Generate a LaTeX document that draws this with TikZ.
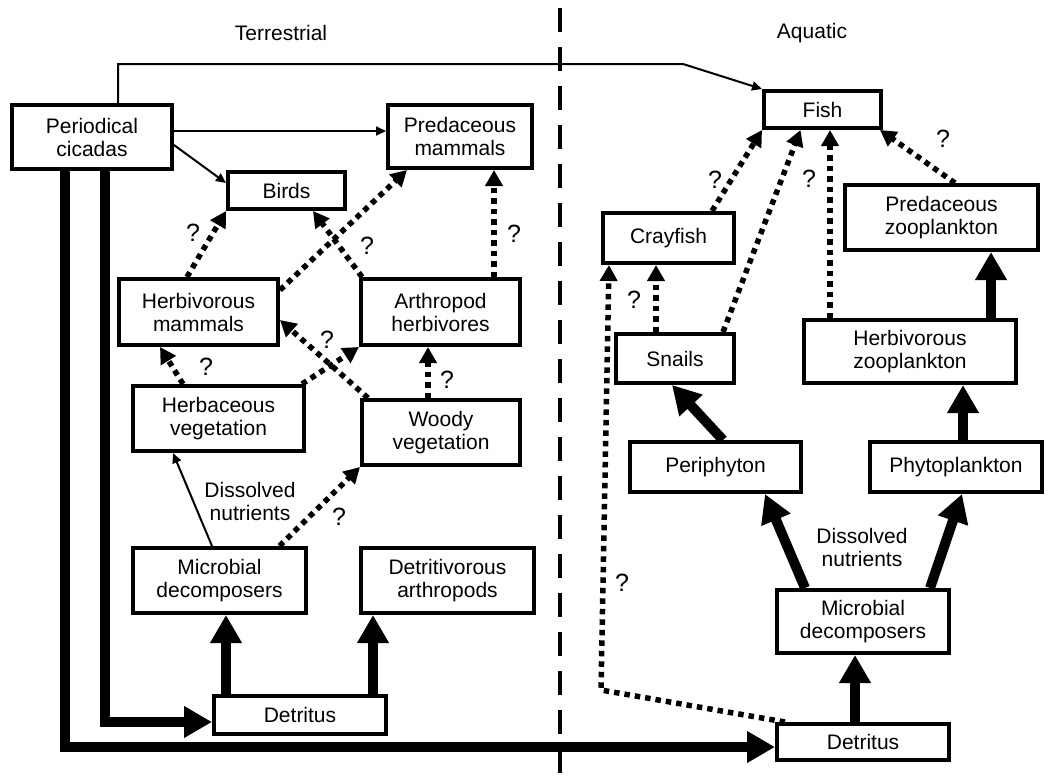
\documentclass[tikz,border=0pt]{standalone}
\usepackage{fontspec}
\setmainfont{Liberation Sans}
\usetikzlibrary{arrows.meta}

\begin{document}
\begin{tikzpicture}[line join=miter,x=1pt,y=-1pt,
    box/.style={draw,line width=4pt,align=center,inner sep=0pt,font=\fontsize{21}{23}\selectfont},
    lab/.style={align=center,inner sep=0pt,font=\fontsize{21}{23}\selectfont},
    qm/.style={inner sep=0pt,font=\fontsize{25}{27}\selectfont},
    thinarr/.style={line width=2pt,-{Triangle[width=9pt,length=10pt]}},
    thickarr/.style={line width=10pt,-{Triangle[width=30pt,length=28pt]}},
    dotarr/.style={line width=5.5pt,dash pattern=on 5.5pt off 5pt,-{Triangle[width=17pt,length=16pt]}},
    divider/.style={line width=3.5pt,dash pattern=on 24pt off 15pt}]
  \useasboundingbox (0,0) rectangle (1048,782);
  % headings and the split
  \node[lab] (terr) at (281,33) {Terrestrial};
  \node[lab] (aqua) at (812,33) {Aquatic};
  \draw[divider] (560,8) -- (560,782);
  % terrestrial boxes
  \node[box,minimum width=160,minimum height=64] (cic) at (92,137) {Periodical\\cicadas};
  \node[box,minimum width=117,minimum height=37] (birds) at (286.5,190.5) {Birds};
  \node[box,minimum width=144,minimum height=63] (predM) at (460,136.5) {Predaceous\\mammals};
  \node[box,minimum width=159,minimum height=66] (herbM) at (198.5,312) {Herbivorous\\mammals};
  \node[box,minimum width=159,minimum height=66] (arthH) at (440.5,312) {Arthropod\\herbivores};
  \node[box,minimum width=171,minimum height=65] (herbV) at (218.5,418.5) {Herbaceous\\vegetation};
  \node[box,minimum width=158,minimum height=65] (woodyV) at (441,432.5) {Woody\\vegetation};
  \node[box,minimum width=173,minimum height=65] (micT) at (219.5,580.5) {Microbial\\decomposers};
  \node[box,minimum width=173,minimum height=65] (detrA) at (447.5,580.5) {Detritivorous\\arthropods};
  \node[box,minimum width=172,minimum height=38] (detT) at (300,715) {Detritus};
  \node[lab] (dissT) at (250,501) {Dissolved\\nutrients};
  % aquatic boxes
  \node[box,minimum width=117,minimum height=37] (fish) at (822.5,109.5) {Fish};
  \node[box,minimum width=131,minimum height=50] (cray) at (668.5,238) {Crayfish};
  \node[box,minimum width=193,minimum height=65] (predZ) at (941.5,217.5) {Predaceous\\zooplankton};
  \node[box,minimum width=118,minimum height=49] (snails) at (675,358.5) {Snails};
  \node[box,minimum width=212,minimum height=63] (herbZ) at (910,351.5) {Herbivorous\\zooplankton};
  \node[box,minimum width=171,minimum height=50] (peri) at (715.5,467) {Periphyton};
  \node[box,minimum width=172,minimum height=50] (phyto) at (956,467) {Phytoplankton};
  \node[box,minimum width=172,minimum height=63] (micA) at (863,621.5) {Microbial\\decomposers};
  \node[box,minimum width=172,minimum height=36] (detA) at (863,742) {Detritus};
  \node[lab] (dissA) at (862,547) {Dissolved\\nutrients};
  \coordinate (bend) at (683,64);
  \coordinate (dcorner) at (601,690);
  % cicada links
  \draw[thinarr] ([xshift=26]cic.north) |- (bend) -- (fish.north west);
  \draw[thinarr] ([yshift=6]cic.east) -- ([yshift=6]cic.east -| predM.west);
  \draw[thinarr] ([yshift=-8]cic.east) -- ([yshift=7.5]birds.west);
  \draw[thickarr] ([xshift=13]cic.south) |- ([yshift=-7]detT.west);
  \draw[thickarr] ([xshift=-27]cic.south) |- ([yshift=-5]detA.west);
  % terrestrial web
  \draw[thickarr] ([xshift=-74]detT.north) -- ([xshift=-74]detT.north |- micT.south);
  \draw[thickarr] ([xshift=73]detT.north) -- ([xshift=73]detT.north |- detrA.south);
  \draw[thinarr] ([xshift=-7.5]micT.north) -- ([xshift=-45.5]herbV.south);
  \draw[dotarr] ([xshift=60]micT.north) -- (woodyV.south west);
  \draw[dotarr] ([xshift=-35.5]herbV.north) -- ([xshift=-38.5]herbM.south);
  \draw[dotarr] ([xshift=-4]herbV.north east) -- (arthH.south west);
  \draw[dotarr] ([xshift=8]woodyV.north west) -- ([yshift=-8]herbM.east);
  \draw[dotarr] ([xshift=-13]woodyV.north) -- ([xshift=-13]woodyV.north |- arthH.south);
  \draw[dotarr] ([xshift=-11.5]herbM.north) -- (birds.south west);
  \draw[dotarr] ([yshift=-13]herbM.north east) -- ([xshift=21]predM.south west);
  \draw[dotarr] ([xshift=3]arthH.north west) -- ([xshift=26.5]birds.south);
  \draw[dotarr] ([xshift=53.5]arthH.north) -- ([xshift=53.5]arthH.north |- predM.south);
  % aquatic web
  \draw[thickarr] ([xshift=-8]detA.north) -- ([xshift=-8]detA.north |- micA.south);
  \draw[thickarr] ([xshift=-58]micA.north) -- ([xshift=49.5]peri.south);
  \draw[thickarr] ([xshift=67]micA.north) -- ([xshift=6]phyto.south);
  \draw[thickarr] ([xshift=7.5]peri.north) -- ([xshift=-3]snails.south);
  \draw[thickarr] ([xshift=7]phyto.north) -- ([xshift=7]phyto.north |- herbZ.south);
  \draw[thickarr] ([xshift=81]herbZ.north) -- ([xshift=81]herbZ.north |- predZ.south);
  \draw[dotarr] ([xshift=-80]herbZ.north) -- ([xshift=-80]herbZ.north |- fish.south);
  \draw[dotarr] ([xshift=13.5]predZ.north) -- ([xshift=-3]fish.south east);
  \draw[dotarr] ([xshift=43.5]cray.north) -- (fish.south west);
  \draw[dotarr] ([xshift=48]snails.north) -- ([xshift=-22]fish.south);
  \draw[dotarr] ([xshift=-19]snails.north) -- ([xshift=-19]snails.north |- cray.south);
  \draw[dotarr] ([xshift=10]detA.north west) -- (dcorner) -- ([xshift=8]cray.south west);
  % question marks
  \node[qm] (q1) at (193,233) {?};
  \node[qm] (q2) at (367,246) {?};
  \node[qm] (q3) at (514,234) {?};
  \node[qm] (q4) at (327,340) {?};
  \node[qm] (q5) at (206,367) {?};
  \node[qm] (q6) at (447,380) {?};
  \node[qm] (q7) at (339,517) {?};
  \node[qm] (q8) at (715,180) {?};
  \node[qm] (q9) at (809,179) {?};
  \node[qm] (q10) at (943,139) {?};
  \node[qm] (q11) at (634,300) {?};
  \node[qm] (q12) at (622,583) {?};
\end{tikzpicture}
\end{document}
